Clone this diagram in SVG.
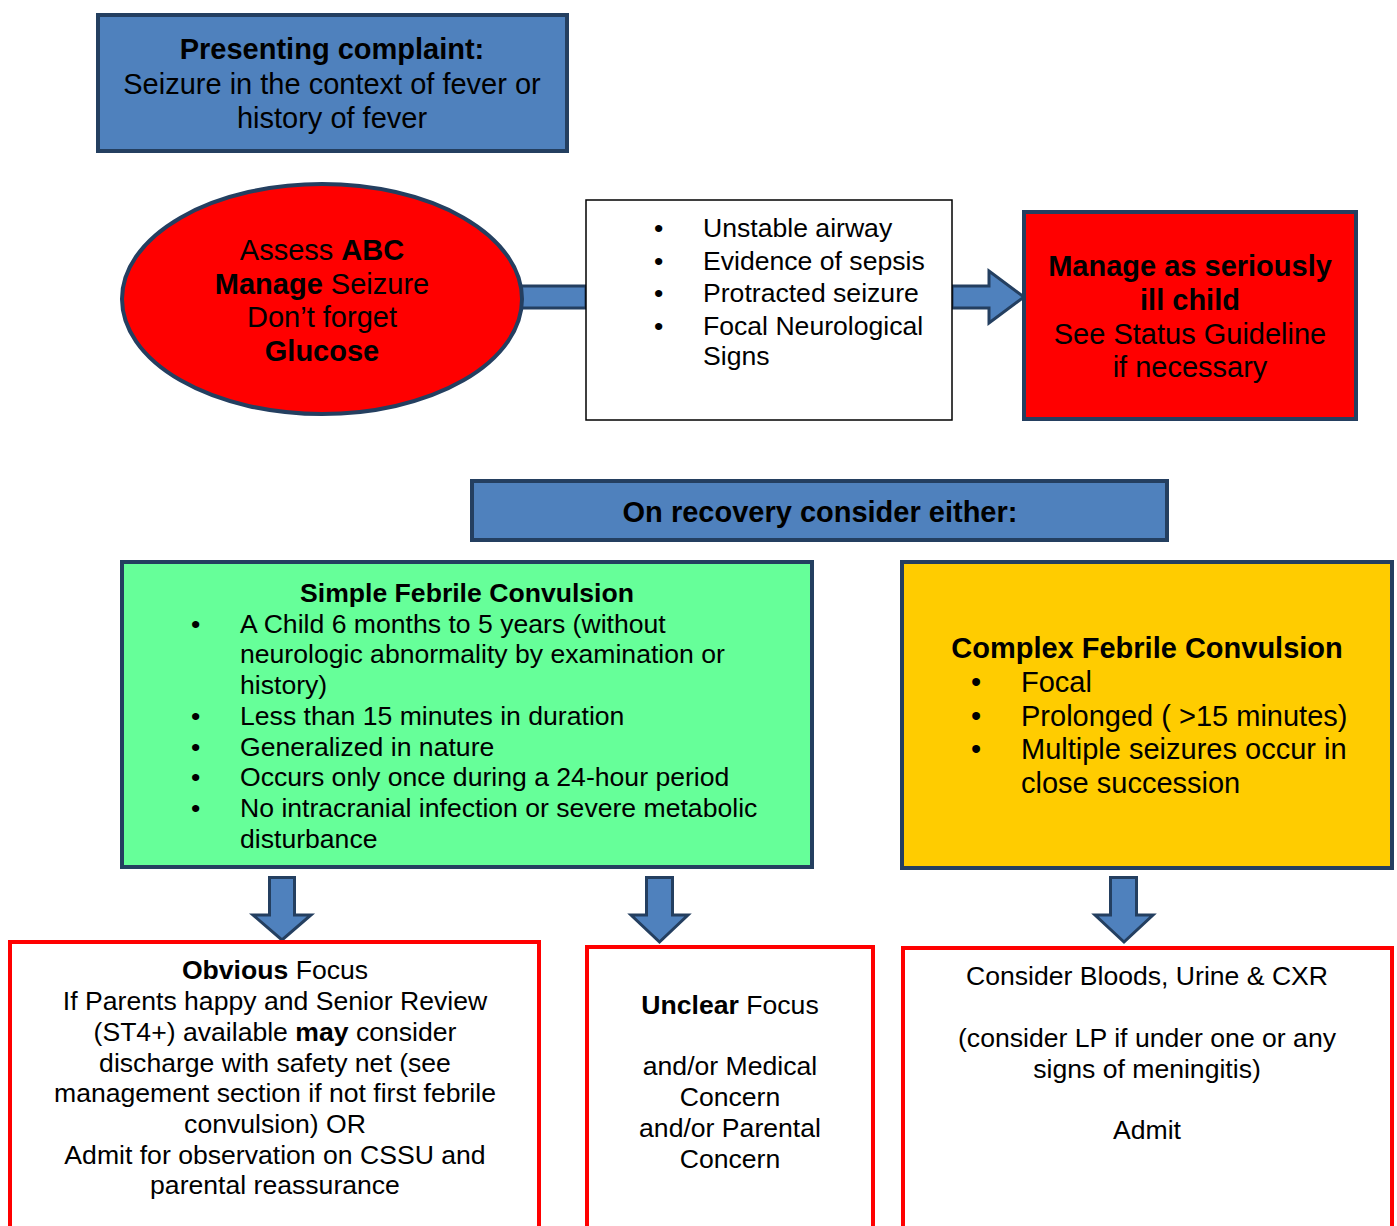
<svg xmlns="http://www.w3.org/2000/svg" width="1397" height="1226" viewBox="0 0 1397 1226">
<style>
text{font-family:"Liberation Sans",Arial,sans-serif;fill:#000}
.c{text-anchor:middle}
.b{font-weight:bold}
.f29{font-size:29px}
.f26{font-size:26.6px}
.f265{font-size:26.6px}
.blue{fill:#4f81bd;stroke:#243f60;stroke-width:4}
.redbox{fill:#ff0000;stroke:#243f60;stroke-width:4}
.arr{fill:#4f81bd;stroke:#243f60;stroke-width:3;stroke-linejoin:miter}
.out{fill:#fff;stroke:#ff0000;stroke-width:4}
</style>
<rect width="1397" height="1226" fill="#fff"/>
<g id="connectors">
<rect class="arr" x="500" y="286" width="86" height="22"/>
<polygon class="arr" points="952,286 989,286 989,271 1024,297 989,323 989,308 952,308"/>
<polygon class="arr" points="269.5,877.5 294.5,877.5 294.5,915 311,915 282,940 253,915 269.5,915"/>
<polygon class="arr" points="646.5,877.5 672.5,877.5 672.5,915 688,915 659.5,942 631,915 646.5,915"/>
<polygon class="arr" points="1110.5,877.5 1136.5,877.5 1136.5,915 1153,915 1124,942 1095,915 1110.5,915"/>
</g>
<g id="presenting">
<rect class="blue" x="98" y="15" width="469" height="136"/>
<text class="c f29 b" x="332" y="59">Presenting complaint:</text>
<text class="c f29" x="332" y="94">Seizure in the context of fever or</text>
<text class="c f29" x="332" y="128">history of fever</text>
</g>
<g id="assess">
<ellipse cx="322" cy="299" rx="200" ry="115" fill="#ff0000" stroke="#243f60" stroke-width="4"/>
<text class="c f29" x="322" y="260">Assess <tspan class="b">ABC</tspan></text>
<text class="c f29" x="322" y="294"><tspan class="b">Manage</tspan> Seizure</text>
<text class="c f29" x="322" y="327">Don’t forget</text>
<text class="c f29 b" x="322" y="361">Glucose</text>
</g>
<g id="redflags">
<rect x="586" y="200" width="366" height="220" fill="#fff" stroke="#000" stroke-width="1.5"/>
<g class="f26">
<text x="654" y="237">•</text><text x="703" y="237">Unstable airway</text>
<text x="654" y="270">•</text><text x="703" y="270">Evidence of sepsis</text>
<text x="654" y="302">•</text><text x="703" y="302">Protracted seizure</text>
<text x="654" y="335">•</text><text x="703" y="335">Focal Neurological</text>
<text x="703" y="365">Signs</text>
</g>
</g>
<g id="seriously-ill">
<rect class="redbox" x="1024" y="212" width="332" height="207"/>
<text class="c f29 b" x="1190" y="276">Manage as seriously</text>
<text class="c f29 b" x="1190" y="310">ill child</text>
<text class="c f29" x="1190" y="344">See Status Guideline</text>
<text class="c f29" x="1190" y="377">if necessary</text>
</g>
<g id="recovery">
<rect class="blue" x="472" y="481" width="695" height="59"/>
<text class="c f29 b" x="820" y="522">On recovery consider either:</text>
</g>
<g id="simple">
<rect x="122" y="562" width="690" height="305" fill="#66ff99" stroke="#243f60" stroke-width="4"/>
<text class="c f265 b" x="467" y="602">Simple Febrile Convulsion</text>
<g class="f265">
<text x="191" y="633">•</text><text x="240" y="633">A Child 6 months to 5 years (without</text>
<text x="240" y="663">neurologic abnormality by examination or</text>
<text x="240" y="694">history)</text>
<text x="191" y="725">•</text><text x="240" y="725">Less than 15 minutes in duration</text>
<text x="191" y="756">•</text><text x="240" y="756">Generalized in nature</text>
<text x="191" y="786">•</text><text x="240" y="786">Occurs only once during a 24-hour period</text>
<text x="191" y="817">•</text><text x="240" y="817">No intracranial infection or severe metabolic</text>
<text x="240" y="848">disturbance</text>
</g>
</g>
<g id="complex">
<rect x="902" y="562" width="490" height="306" fill="#ffcc00" stroke="#243f60" stroke-width="4"/>
<text class="c f29 b" x="1147" y="658">Complex Febrile Convulsion</text>
<g class="f29">
<text x="971" y="692">•</text><text x="1021" y="692">Focal</text>
<text x="971" y="726">•</text><text x="1021" y="726">Prolonged ( &gt;15 minutes)</text>
<text x="971" y="759">•</text><text x="1021" y="759">Multiple seizures occur in</text>
<text x="1021" y="793">close succession</text>
</g>
</g>
<g id="obvious">
<rect class="out" x="10" y="942" width="529" height="300"/>
<g class="c f265">
<text x="275" y="979"><tspan class="b">Obvious</tspan> Focus</text>
<text x="275" y="1010">If Parents happy and Senior Review</text>
<text x="275" y="1041">(ST4+) available <tspan class="b">may</tspan> consider</text>
<text x="275" y="1072">discharge with safety net (see</text>
<text x="275" y="1102">management section if not first febrile</text>
<text x="275" y="1133">convulsion) OR</text>
<text x="275" y="1164">Admit for observation on CSSU and</text>
<text x="275" y="1194">parental reassurance</text>
</g>
</g>
<g id="unclear">
<rect class="out" x="587" y="947" width="286" height="300"/>
<g class="c f265">
<text x="730" y="1014"><tspan class="b">Unclear</tspan> Focus</text>
<text x="730" y="1075">and/or Medical</text>
<text x="730" y="1106">Concern</text>
<text x="730" y="1137">and/or Parental</text>
<text x="730" y="1168">Concern</text>
</g>
</g>
<g id="consider">
<rect class="out" x="903" y="948" width="489" height="300"/>
<g class="c f265">
<text x="1147" y="985">Consider Bloods, Urine &amp; CXR</text>
<text x="1147" y="1047">(consider LP if under one or any</text>
<text x="1147" y="1078">signs of meningitis)</text>
<text x="1147" y="1139">Admit</text>
</g>
</g>
</svg>
